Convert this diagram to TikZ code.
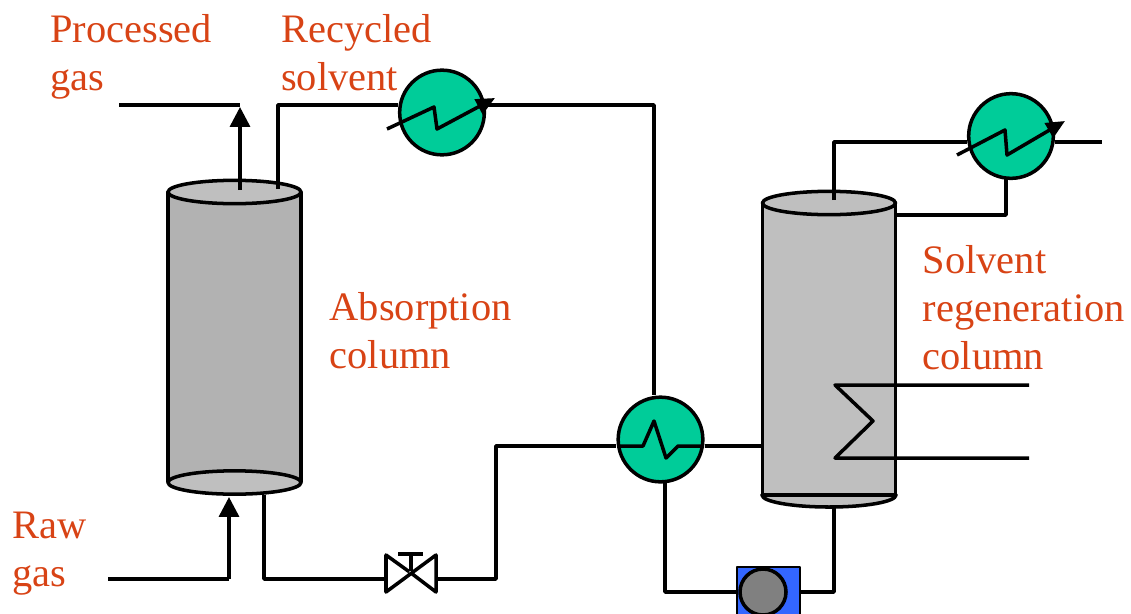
\documentclass[tikz,border=0pt]{standalone}
\usepackage{fontspec}
\setmainfont{Liberation Serif}
\usetikzlibrary{arrows.meta,shapes.geometric}
\definecolor{labelred}{RGB}{216,67,21}
\definecolor{coolergreen}{RGB}{0,204,153}
\definecolor{pumpblue}{RGB}{51,102,255}
\begin{document}
\begin{tikzpicture}[x=0.03cm,y=-0.03cm,
                    line width=3pt,
                    line join=round,
                    ]
    \tikzstyle{pipe}=[draw=black];
    \tikzstyle{feed}=[pipe, -{Triangle[width=17pt,length=17pt]}];
    \tikzstyle{cooler}=[circle,draw=black,fill=coolergreen,minimum size=2.54cm,inner sep=0pt];
    \tikzstyle{coil}=[draw=black, -{Triangle[width=14pt,length=16pt]}];
    \tikzstyle{shell}=[rectangle,draw=black,minimum width=3.99cm,inner sep=0pt];
    \tikzstyle{lid}=[ellipse,draw=black,fill=black!25,minimum width=3.99cm,minimum height=0.7cm,inner sep=0pt];
    \tikzstyle{pumpbox}=[rectangle,fill=pumpblue,draw=black,line width=1.5pt,minimum size=1.87cm,inner sep=0pt];
    \tikzstyle{pumpball}=[circle,fill=gray,draw=black,minimum size=1.38cm,inner sep=0pt];
    \tikzstyle{tag}=[anchor=base west,align=left,inner sep=0pt,text=labelred,font=\fontsize{34.5}{41}\selectfont];

    \useasboundingbox (0,0) rectangle (1131,613);
    \clip (0,0) rectangle (1131,613);

    % columns
    \node[shell,fill=black!30,minimum height=8.7cm] (absbody) at (234.5,337) {};
    \node[lid] (abstop) at (234.5,192) {};
    \node[lid] (absbot) at (234.5,482.5) {};
    \fill[black!25,draw=black] (762,495) arc[start angle=180,end angle=0,x radius=67,y radius=12] -- cycle;
    \node[shell,fill=black!25,minimum height=8.76cm] (regbody) at (829,349) {};
    \node[lid] (regtop) at (829,203) {};

    % fixed points of the pipes
    \coordinate (gasout) at (119,105);
    \coordinate (gasend) at (240,105);
    \coordinate (gasup) at (240,190);
    \coordinate (recycle) at (278,189);
    \coordinate (hotturn) at (654,105);
    \coordinate (rawin) at (108,579);
    \coordinate (rawturn) at (229,579);
    \coordinate (rawtip) at (229,497);
    \coordinate (richout) at (264,495);
    \coordinate (valveL) at (386,579);
    \coordinate (valveR) at (436,579);
    \coordinate (richturn) at (496,579);
    \coordinate (regfeed) at (762,446);
    \coordinate (vapour) at (834,200);
    \coordinate (refluxin) at (896,215);
    \coordinate (ventout) at (1102,142);
    \coordinate (leanout) at (834,507);

    % coolers and pump
    \node[cooler] (cooler) at (442,112.5) {};
    \node[cooler] (exchanger) at (660.5,439.5) {};
    \node[cooler] (condenser) at (1011,136) {};
    \node[pumpbox] (pumpbase) at (768.5,598) {};
    \node[pumpball] (pump) at (763,592) {};

    % pipes
    \draw[pipe] (gasout) -- (gasend);
    \draw[feed] (gasup) -- (240,107);
    \draw[pipe] (recycle) |- (cooler.west |- hotturn);
    \draw[pipe] (cooler.east |- hotturn) -- (hotturn) -- (hotturn |- exchanger.north);
    \draw[pipe] (rawin) -- (rawturn);
    \draw[feed] (rawturn) -- (rawtip);
    \draw[pipe] (richout) |- (valveL);
    \draw[pipe] (valveR) -- (richturn) |- (exchanger.west |- regfeed);
    \draw[pipe] (exchanger.east |- regfeed) -- (regfeed);
    \draw[pipe] (665,482) |- (pumpbase.west |- pump);
    \draw[pipe] (pumpbase.east |- pump) -| (leanout);
    \draw[pipe] (vapour) |- (condenser.west |- ventout);
    \draw[pipe] (condenser.east |- ventout) -- (ventout);
    \draw[pipe] (refluxin) -| (1006,179);

    % valve
    \node[inner sep=0pt,minimum size=0pt] (valve) at (411,573) {};
    \draw[pipe] (valve) -- (386,555) -- (386,592) -- (436,555) -- (436,592) -- (valve);
    \draw[pipe] (valve) -- (411,554);
    \draw[pipe] (398,554) -- (423,554);

    % coils
    \draw[coil] (387,129) -- (434,107) -- (437,129) -- (495,98);
    \draw[coil] (957,155) -- (1005,130) -- (1007,155) -- (1065,121);
    \draw[pipe] (617,446) -- (643,446) -- (654,421) -- (666,458) -- (678,446) -- (704,446);
    \draw[pipe] (1029,385) -- (835,385) -- (873,421) -- (835,458) -- (1029,458);

    % labels
    \node[tag] (processed) at (48.5,90.5) {Processed\\gas};
    \node[tag] (recycled) at (279.5,90.5) {Recycled\\solvent};
    \node[tag] (absorption) at (328,368.5) {Absorption\\column};
    \node[tag] (raw) at (11,586.5) {Raw\\gas};
    \node[tag] (regeneration) at (921,369.5) {Solvent\\regeneration\\column};
\end{tikzpicture}
\end{document}
